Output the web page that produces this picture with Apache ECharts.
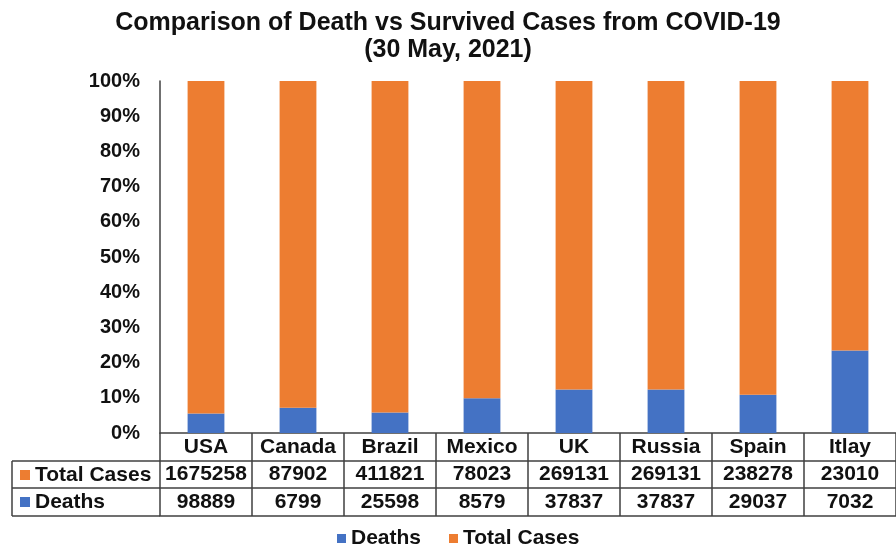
<!DOCTYPE html>
<html>
<head>
<meta charset="utf-8">
<script src="https://cdn.jsdelivr.net/npm/echarts@6/dist/echarts.min.js"></script>
<style>
  html, body { margin: 0; padding: 0; background: #fff; }
  #chart { width: 896px; height: 548px; }
</style>
</head>
<body>
<div id="chart"></div>
<script>
// ---- data ----
var categories = ['USA', 'Canada', 'Brazil', 'Mexico', 'UK', 'Russia', 'Spain', 'Itlay'];
var totalCases = [1675258, 87902, 411821, 78023, 269131, 269131, 238278, 23010];
var deaths = [98889, 6799, 25598, 8579, 37837, 37837, 29037, 7032];
var yTicks = [0, 10, 20, 30, 40, 50, 60, 70, 80, 90, 100];

// 100% stacked shares (derived from the arrays above)
var deathShare = deaths.map(function (d, i) { return d / (d + totalCases[i]) * 100; });
var totalShare = totalCases.map(function (t, i) { return t / (t + deaths[i]) * 100; });

var FONT = '"Liberation Sans", Arial, Helvetica, sans-serif';
var TXT = '#111111';
var LINE = '#404040';
var BLUE = '#4472C4';
var ORANGE = '#ED7D31';

var chart = echarts.init(document.getElementById('chart'), null, { renderer: 'canvas' });

function rowAxis(offset, labels, tickLen, labelMargin, showTicks) {
  return {
    type: 'category',
    data: categories,
    position: 'bottom',
    offset: offset,
    gridIndex: 0,
    boundaryGap: true,
    axisLine: { show: true, lineStyle: { color: LINE, width: 1.5 } },
    axisTick: { show: showTicks, interval: 0, alignWithLabel: false, length: tickLen, lineStyle: { color: LINE, width: 1.5 } },
    axisLabel: {
      show: !!labels,
      interval: 0,
      margin: labelMargin,
      verticalAlign: 'middle',
      fontFamily: FONT,
      fontWeight: 'bold',
      fontSize: 21,
      color: TXT,
      formatter: function (v, i) { return labels ? String(labels[i]) : ''; }
    },
    splitLine: { show: false }
  };
}

var option = {
  animation: false,
  backgroundColor: '#ffffff',
  title: {
    text: 'Comparison of Death vs Survived Cases from COVID-19\n(30 May, 2021)',
    left: 'center',
    top: 5,
    textStyle: { fontFamily: FONT, fontWeight: 'bold', fontSize: 25, lineHeight: 27, color: TXT }
  },
  legend: {
    data: ['Deaths', 'Total Cases'],
    left: 332,
    top: 523,
    icon: 'rect',
    itemWidth: 9,
    itemHeight: 9,
    itemGap: 28,
    textStyle: { fontFamily: FONT, fontWeight: 'bold', fontSize: 21, color: TXT }
  },
  grid: { left: 160, top: 81, width: 742, bottom: 115, containLabel: false },
  xAxis: [
    rowAxis(0, categories, 28, 14, true),
    rowAxis(28, totalCases, 27, 13, true),
    rowAxis(55, deaths, 28, 14, true),
    rowAxis(83, null, 0, 0, false)
  ],
  yAxis: {
    type: 'value',
    min: 0,
    max: 100,
    interval: 10,
    axisLine: { show: true, lineStyle: { color: LINE, width: 1.5 } },
    axisTick: { show: false },
    splitLine: { show: false },
    axisLabel: {
      margin: 20,
      fontFamily: FONT,
      fontWeight: 'bold',
      fontSize: 20,
      color: TXT,
      formatter: function (v) { return yTicks.indexOf(v) >= 0 ? v + '%' : ''; }
    }
  },
  series: [
    {
      name: 'Deaths',
      type: 'bar',
      stack: 'all',
      xAxisIndex: 0,
      barWidth: '40%',
      itemStyle: { color: BLUE },
      data: deathShare
    },
    {
      name: 'Total Cases',
      type: 'bar',
      stack: 'all',
      xAxisIndex: 0,
      barWidth: '40%',
      itemStyle: { color: ORANGE },
      data: totalShare
    }
  ],
  graphic: [
    { type: 'line', shape: { x1: 12, y1: 461, x2: 160, y2: 461 }, style: { stroke: LINE, lineWidth: 1.5 } },
    { type: 'line', shape: { x1: 12, y1: 488, x2: 160, y2: 488 }, style: { stroke: LINE, lineWidth: 1.5 } },
    { type: 'line', shape: { x1: 12, y1: 516, x2: 160, y2: 516 }, style: { stroke: LINE, lineWidth: 1.5 } },
    { type: 'line', shape: { x1: 12, y1: 461, x2: 12, y2: 516 }, style: { stroke: LINE, lineWidth: 1.5 } },
    { type: 'rect', shape: { x: 20, y: 470, width: 10, height: 10 }, style: { fill: ORANGE } },
    { type: 'rect', shape: { x: 20, y: 497, width: 10, height: 10 }, style: { fill: BLUE } },
    { type: 'text', x: 35, y: 475, style: { text: 'Total Cases', font: 'bold 21px ' + FONT, fill: TXT, verticalAlign: 'middle' } },
    { type: 'text', x: 35, y: 502, style: { text: 'Deaths', font: 'bold 21px ' + FONT, fill: TXT, verticalAlign: 'middle' } }
  ]
};

chart.setOption(option);
</script>
</body>
</html>
